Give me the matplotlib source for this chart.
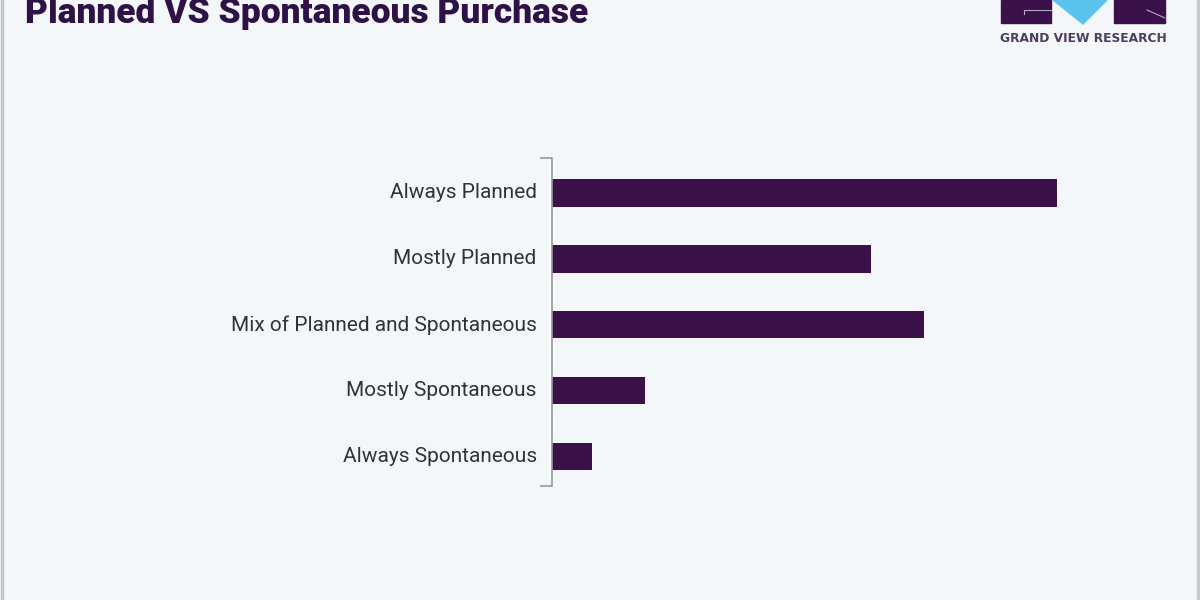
import matplotlib
matplotlib.use("Agg")
import matplotlib.pyplot as plt
from matplotlib.patches import Rectangle, Polygon
from matplotlib.lines import Line2D

# data (share of respondents, %)
categories = ["Always Planned", "Mostly Planned", "Mix of Planned and Spontaneous",
              "Mostly Spontaneous", "Always Spontaneous"]
values = [38, 24, 28, 7, 3]

title = "Planned VS Spontaneous Purchase"
brand = "GRAND VIEW RESEARCH"

BG = "#f3f7fa"
BAR = "#3a1149"
TITLE_C = "#2e1146"

fig = plt.figure(figsize=(12, 6), dpi=100, facecolor=BG)

# frame lines at left/right edges
fig.add_artist(Line2D([0.002, 0.002], [0, 1], color="#c8c8c8", lw=2.5, transform=fig.transFigure))
fig.add_artist(Line2D([0.998, 0.998], [0, 1], color="#c8c8c8", lw=2.5, transform=fig.transFigure))

# title (top partly cut off like the reference)
fig.text(25 / 1200, 1 - 23 / 600, title, fontsize=25.5, fontweight="black",
         family=["Roboto", "DejaVu Sans"], color=TITLE_C, ha="left", va="baseline")

# logo blocks
def px(x, y):
    return (x / 1200, 1 - y / 600)

fig.add_artist(Rectangle(px(1001, 23), 50 / 1200, 23 / 600, color="#3a1149",
                         transform=fig.transFigure))
fig.add_artist(Rectangle(px(1114, 23), 51 / 1200, 23 / 600, color="#3a1149",
                         transform=fig.transFigure))
fig.add_artist(Polygon([px(1053, 0), px(1107, 0), px(1083, 24)], closed=True,
                       color="#5bc4ee", transform=fig.transFigure))
fig.add_artist(Line2D([px(1024, 0)[0], px(1024, 0)[0], px(1051, 0)[0]],
                      [px(0, 14)[1], px(0, 10)[1], px(0, 10)[1]],
                      color="#b7a8c8", lw=0.8, transform=fig.transFigure))
fig.add_artist(Line2D([px(1147, 0)[0], px(1165, 0)[0]],
                      [px(0, 10)[1], px(0, 18)[1]],
                      color="#b7a8c8", lw=0.8, transform=fig.transFigure))
fig.text(1083 / 1200, 1 - 38 / 600, brand, fontsize=8.8, fontweight="bold",
         family=["DejaVu Sans"], color="#4d3d5e", ha="center", va="center")

ax = fig.add_axes([552 / 1200, 1 - 486 / 600, 598 / 1200, 328 / 600])
ax.set_facecolor(BG)

y = list(range(len(categories)))
ax.barh(y, values, height=0.41, color=BAR)
ax.set_xlim(0, 45)
ax.set_ylim(4.44, -0.53)

ax.set_yticks(y)
ax.set_yticklabels(categories, fontsize=15, color="#333333", family=["Roboto", "DejaVu Sans"],
                   va="center")
ax.tick_params(axis="y", length=0, pad=11)
ax.set_yticks([4.44, -0.53], minor=True)
ax.tick_params(axis="y", which="minor", length=9, width=1.2, color="#999999")
ax.set_xticks([])

for s in ["top", "right", "bottom"]:
    ax.spines[s].set_visible(False)
ax.spines["left"].set_color("#999999")
ax.spines["left"].set_linewidth(1.2)

fig.savefig("out.png", dpi=100, facecolor=BG)
